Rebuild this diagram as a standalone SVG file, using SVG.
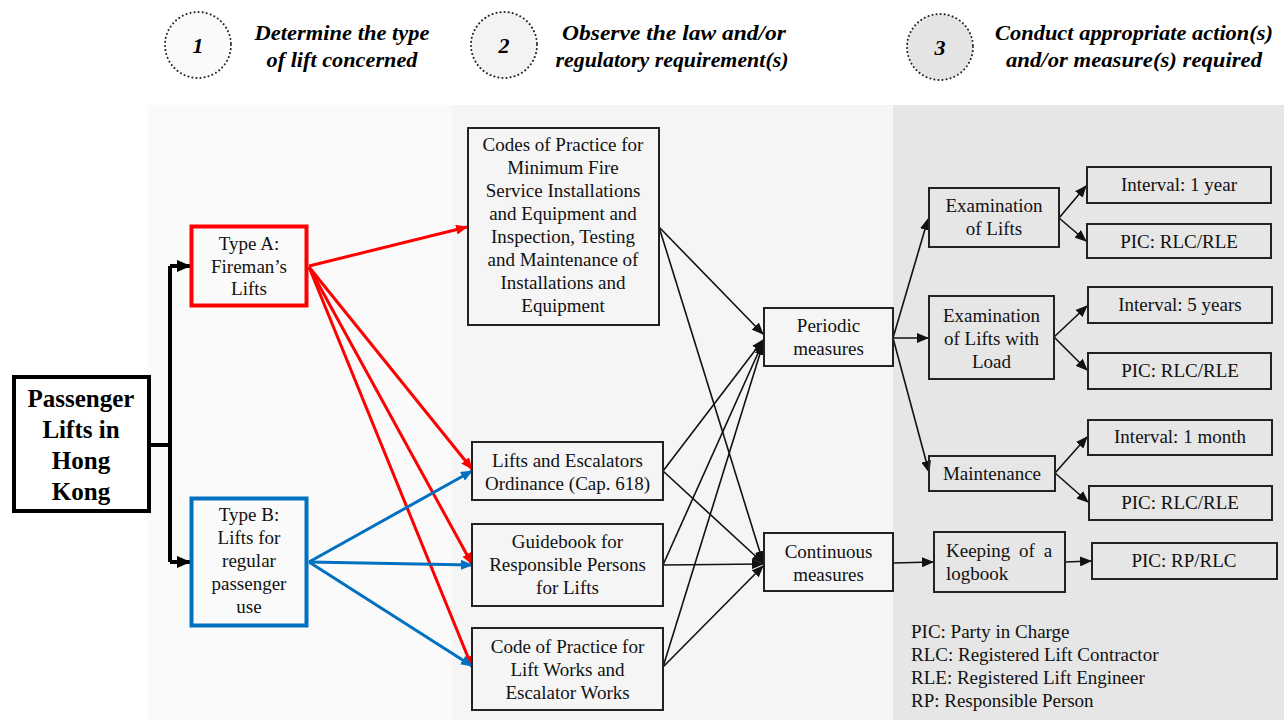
<svg xmlns="http://www.w3.org/2000/svg" width="1284" height="720" viewBox="0 0 1284 720">
<defs>
<style>
.t{font-family:"Liberation Serif","Times New Roman",serif;font-size:19px;fill:#111;text-anchor:middle}
.tl{font-family:"Liberation Serif","Times New Roman",serif;font-size:19px;fill:#111}
.h{font-family:"Liberation Serif","Times New Roman",serif;font-size:22px;font-weight:bold;font-style:italic;fill:#000;text-anchor:middle}
.main{font-family:"Liberation Serif","Times New Roman",serif;font-size:25px;font-weight:bold;fill:#000;text-anchor:middle}
.box{fill:none;stroke:#222;stroke-width:2}
.circ{stroke:#222;stroke-width:2;stroke-dasharray:0.1 4;stroke-linecap:round}
.k{stroke:#111;stroke-width:1.6;fill:none;marker-end:url(#ak)}
.r{stroke:#ff0000;stroke-width:3;fill:none;marker-end:url(#ar)}
.b{stroke:#0070c0;stroke-width:3;fill:none;marker-end:url(#ab)}
.kk{stroke:#000;stroke-width:4;fill:none}
</style>
<marker id="ak" markerUnits="userSpaceOnUse" markerWidth="12" markerHeight="10" refX="11" refY="5" orient="auto"><path d="M0,0 L12,5 L0,10 Z" fill="#111"/></marker>
<marker id="ar" markerUnits="userSpaceOnUse" markerWidth="12" markerHeight="10" refX="11" refY="5" orient="auto"><path d="M0,0 L12,5 L0,10 Z" fill="#ff0000"/></marker>
<marker id="ab" markerUnits="userSpaceOnUse" markerWidth="12" markerHeight="10" refX="11" refY="5" orient="auto"><path d="M0,0 L12,5 L0,10 Z" fill="#0070c0"/></marker>
<marker id="akk" markerUnits="userSpaceOnUse" markerWidth="14" markerHeight="12" refX="13" refY="6" orient="auto"><path d="M0,0 L14,6 L0,12 Z" fill="#000"/></marker>
</defs>
<rect width="1284" height="720" fill="#ffffff"/>
<g id="panels">
<rect x="148" y="105" width="304" height="615" fill="#fafafa"/>
<rect x="452" y="105" width="441" height="615" fill="#f5f5f5"/>
<rect x="893" y="105" width="391" height="615" fill="#e6e6e6"/>
</g>
<g id="header">
<g id="step1"><circle class="circ" cx="198" cy="45" r="33" fill="#fafafa"/><text class="h" x="198" y="53">1</text>
<text class="h" x="342" y="40" textLength="175" lengthAdjust="spacingAndGlyphs">Determine the type</text>
<text class="h" x="342" y="67" textLength="151" lengthAdjust="spacingAndGlyphs">of lift concerned</text></g>
<g id="step2"><circle class="circ" cx="504" cy="45" r="33" fill="#f3f3f3"/><text class="h" x="504" y="53">2</text>
<text class="h" x="674" y="40" textLength="224" lengthAdjust="spacingAndGlyphs">Observe the law and/or</text>
<text class="h" x="672" y="67" textLength="233" lengthAdjust="spacingAndGlyphs">regulatory requirement(s)</text></g>
<g id="step3"><circle class="circ" cx="940" cy="47" r="33" fill="#e4e4e4"/><text class="h" x="940" y="55">3</text>
<text class="h" x="1134" y="40" textLength="278" lengthAdjust="spacingAndGlyphs">Conduct appropriate action(s)</text>
<text class="h" x="1134" y="67" textLength="256" lengthAdjust="spacingAndGlyphs">and/or measure(s) required</text></g>
</g>
<g id="connectors">
<path class="kk" d="M151,445 H170 M170,266 V562"/>
<path class="kk" d="M170,266 H190" marker-end="url(#akk)"/>
<path class="kk" d="M170,562 H190" marker-end="url(#akk)"/>
<path class="r" d="M309,266 L467,227"/>
<path class="r" d="M309,267 L472,469"/>
<path class="r" d="M309,267 L472,564"/>
<path class="r" d="M309,267 L472,667"/>
<path class="b" d="M309,562 L472,471"/>
<path class="b" d="M309,562 L472,565"/>
<path class="b" d="M309,562 L472,666"/>
<path class="k" d="M659,227 L763,334"/>
<path class="k" d="M659,227 L763,562"/>
<path class="k" d="M663,471 L763,340"/>
<path class="k" d="M663,471 L763,563"/>
<path class="k" d="M663,565 L763,342"/>
<path class="k" d="M663,565 L763,564"/>
<path class="k" d="M663,667 L763,344"/>
<path class="k" d="M663,667 L763,566"/>
<path class="k" d="M893,338 L928,219"/>
<path class="k" d="M893,338 L928,338"/>
<path class="k" d="M893,338 L929,472"/>
<path class="k" d="M1059,218 L1086,186"/>
<path class="k" d="M1059,218 L1086,241"/>
<path class="k" d="M1054,337 L1087,306"/>
<path class="k" d="M1054,337 L1087,370"/>
<path class="k" d="M1055,473 L1087,437"/>
<path class="k" d="M1055,473 L1088,502"/>
<path class="k" d="M893,563 L933,562"/>
<path class="k" d="M1065,562 L1091,561"/>
</g>
<g id="main"><rect x="14" y="377" width="135" height="134" fill="#ffffff" stroke="#000" stroke-width="4"/>
<text class="main" x="81" y="407">Passenger</text><text class="main" x="81" y="438">Lifts in</text><text class="main" x="81" y="469">Hong</text><text class="main" x="81" y="500">Kong</text></g>
<g id="typeA"><rect x="191.5" y="226.5" width="115" height="79" fill="none" stroke="#ff0000" stroke-width="4"/>
<text class="t" x="249" y="250">Type A:</text><text class="t" x="249" y="273">Fireman’s</text><text class="t" x="249" y="295">Lifts</text></g>
<g id="typeB"><rect x="191.5" y="498.5" width="115" height="127" fill="none" stroke="#0070c0" stroke-width="4"/>
<text class="t" x="249" y="521">Type B:</text><text class="t" x="249" y="544">Lifts for</text><text class="t" x="249" y="567">regular</text><text class="t" x="249" y="590">passenger</text><text class="t" x="249" y="613">use</text></g>
<g id="doc1"><rect class="box" x="468" y="128" width="191" height="197"/>
<text class="t" x="563" y="151">Codes of Practice for</text><text class="t" x="563" y="174">Minimum Fire</text><text class="t" x="563" y="197">Service Installations</text><text class="t" x="563" y="220">and Equipment and</text><text class="t" x="563" y="243">Inspection, Testing</text><text class="t" x="563" y="266">and Maintenance of</text><text class="t" x="563" y="289">Installations and</text><text class="t" x="563" y="312">Equipment</text></g>
<g id="doc2"><rect class="box" x="472" y="442" width="191" height="58"/>
<text class="t" x="567.5" y="467">Lifts and Escalators</text><text class="t" x="567.5" y="490">Ordinance (Cap. 618)</text></g>
<g id="doc3"><rect class="box" x="472" y="524" width="191" height="82"/>
<text class="t" x="567.5" y="548">Guidebook for</text><text class="t" x="567.5" y="571">Responsible Persons</text><text class="t" x="567.5" y="594">for Lifts</text></g>
<g id="doc4"><rect class="box" x="472" y="628" width="191" height="82"/>
<text class="t" x="567.5" y="653">Code of Practice for</text><text class="t" x="567.5" y="676">Lift Works and</text><text class="t" x="567.5" y="699">Escalator Works</text></g>
<g id="periodic"><rect class="box" x="764" y="308" width="129" height="58"/>
<text class="t" x="828.5" y="332">Periodic</text><text class="t" x="828.5" y="355">measures</text></g>
<g id="continuous"><rect class="box" x="764" y="533" width="129" height="58"/>
<text class="t" x="828.5" y="558">Continuous</text><text class="t" x="828.5" y="581">measures</text></g>
<g id="examLifts"><rect class="box" x="929" y="188" width="130" height="59"/>
<text class="t" x="994" y="212">Examination</text><text class="t" x="994" y="235">of Lifts</text></g>
<g id="int1y"><rect class="box" x="1087" y="167" width="184" height="36"/><text class="t" x="1179" y="191">Interval: 1 year</text></g>
<g id="pic1"><rect class="box" x="1087" y="224" width="184" height="34"/><text class="t" x="1179" y="248">PIC: RLC/RLE</text></g>
<g id="examLoad"><rect class="box" x="929" y="296" width="125" height="83"/>
<text class="t" x="991.5" y="322">Examination</text><text class="t" x="991.5" y="345">of Lifts with</text><text class="t" x="991.5" y="368">Load</text></g>
<g id="int5y"><rect class="box" x="1088" y="287" width="184" height="36"/><text class="t" x="1180" y="311">Interval: 5 years</text></g>
<g id="pic2"><rect class="box" x="1088" y="353" width="183" height="36"/><text class="t" x="1180" y="377">PIC: RLC/RLE</text></g>
<g id="maint"><rect class="box" x="929" y="456" width="126" height="35"/><text class="t" x="992" y="480">Maintenance</text></g>
<g id="int1m"><rect class="box" x="1088" y="420" width="184" height="35"/><text class="t" x="1180" y="443">Interval: 1 month</text></g>
<g id="pic3"><rect class="box" x="1089" y="486" width="183" height="34"/><text class="t" x="1180" y="509">PIC: RLC/RLE</text></g>
<g id="logbook"><rect class="box" x="934" y="532" width="131" height="60"/>
<text class="tl" x="946" y="557" word-spacing="4">Keeping of a</text><text class="tl" x="946" y="580">logbook</text></g>
<g id="picRP"><rect class="box" x="1092" y="543" width="185" height="36"/><text class="t" x="1184" y="567">PIC: RP/RLC</text></g>
<g id="legend">
<text class="tl" x="911" y="638">PIC: Party in Charge</text>
<text class="tl" x="911" y="661">RLC: Registered Lift Contractor</text>
<text class="tl" x="911" y="684">RLE: Registered Lift Engineer</text>
<text class="tl" x="911" y="707">RP: Responsible Person</text>
</g>
</svg>
